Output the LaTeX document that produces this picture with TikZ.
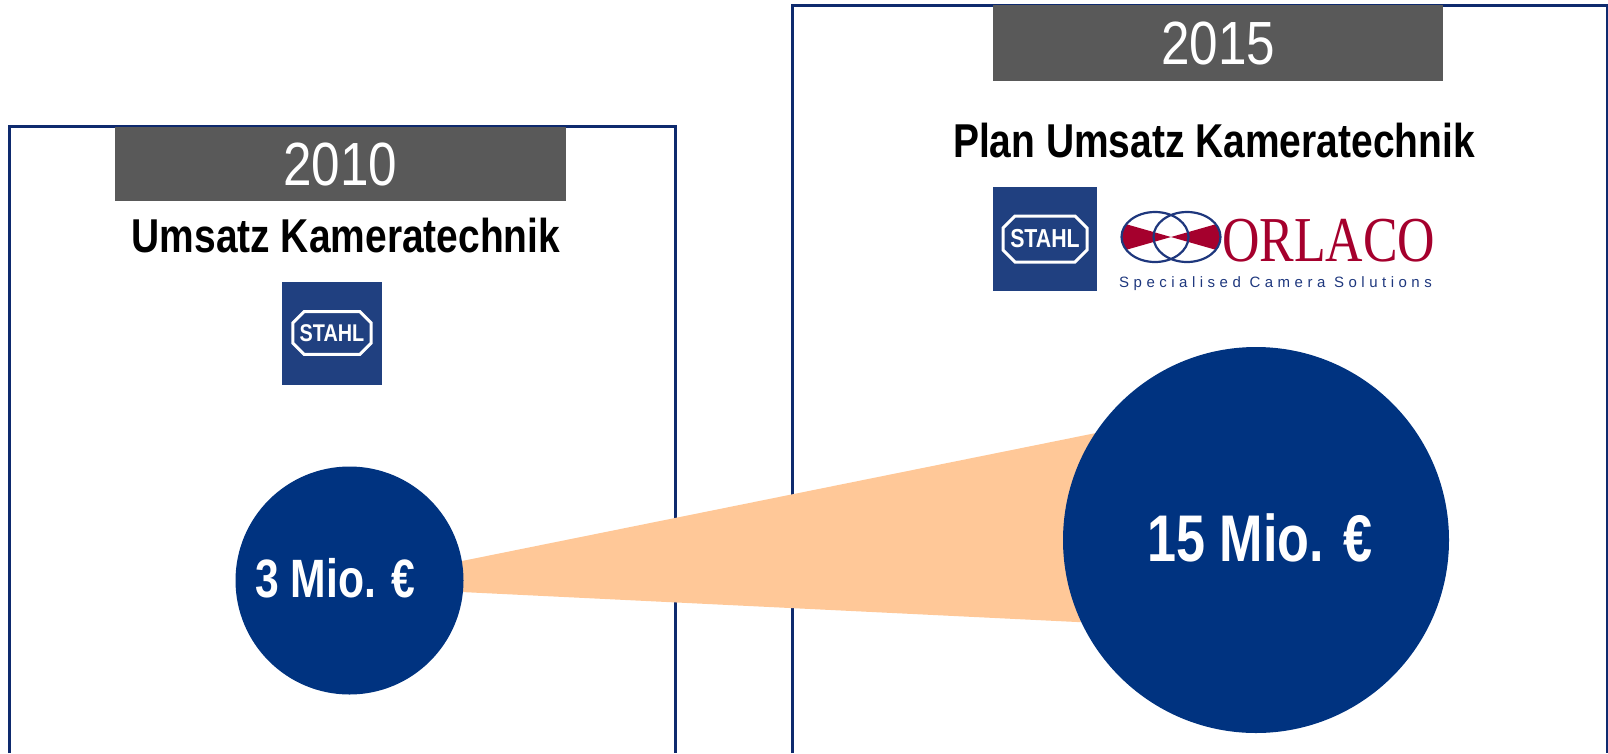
\documentclass[tikz,border=0pt]{standalone}
\usepackage{fontspec}
\setmainfont{Liberation Sans}
\newfontfamily\nreg[FakeStretch=0.84]{Liberation Sans}
\newfontfamily\nbold[FakeStretch=0.82]{Liberation Sans Bold}
\newfontfamily\nboldc[FakeStretch=0.79]{Liberation Sans Bold}
\newfontfamily\orlfont[FakeStretch=0.81]{Liberation Serif}
\newfontfamily\tagfont[LetterSpace=30]{Liberation Sans}
\definecolor{boxnavy}{RGB}{14,42,110}
\definecolor{bubblenavy}{RGB}{0,51,128}
\definecolor{bargray}{RGB}{89,89,89}
\definecolor{peach}{RGB}{255,200,152}
\definecolor{stahlblue}{RGB}{32,64,128}
\definecolor{orlred}{RGB}{165,0,45}
\definecolor{orlnavy}{RGB}{30,55,125}
\tikzset{
  boxline/.style={draw=boxnavy, line width=3pt},
  yearbar/.style={fill=bargray, text=white, inner sep=0pt,
    font=\nreg\fontsize{61}{62}\selectfont},
  titletext/.style={anchor=base, inner sep=0pt, text=black,
    font=\nbold\fontsize{47.5}{50}\selectfont},
  bubble/.style={circle, fill=bubblenavy, inner sep=0pt},
  bubbletext/.style={anchor=base, inner sep=0pt, text=white},
  stahlsq/.style={fill=stahlblue, inner sep=0pt},
  stahlmark/.pic={
    \draw[white, line width=3pt] (-30,-23) -- (30,-23) -- (42,-11) -- (42,11)
      -- (30,23) -- (-30,23) -- (-42,11) -- (-42,-11) -- cycle;
    \node[text=white, inner sep=0pt, transform shape,
      font=\nbold\fontsize{26}{26}\selectfont] (-txt) at (0,0) {STAHL};
  },
}
\begin{document}
\begin{tikzpicture}[x=1pt,y=-1pt]
\useasboundingbox (0,0) rectangle (1608,753);

% frames
\draw[boxline] (9,753) |- (675,126) -- (675,753);
\draw[boxline] (792,753) |- (1607,5) -- (1607,753);

% year bars
\node[yearbar, minimum width=451, minimum height=74] (y2010) at (340.5,164) {2010};
\node[yearbar, minimum width=450, minimum height=76] (y2015) at (1218,43) {2015};

% titles
\node[titletext] (t2010) at (346,252) {Umsatz Kameratechnik};
\node[titletext] (t2015) at (1214,157) {Plan Umsatz Kameratechnik};

% STAHL logos
\node[stahlsq, minimum width=100, minimum height=103] (stahlL) at (332,333) {};
\pic (sL) [scale=0.93] at (stahlL.center) {stahlmark};
\node[stahlsq, minimum width=104, minimum height=104] (stahlR) at (1045,239) {};
\pic (sR) at (stahlR.center) {stahlmark};

% ORLACO logo
\begin{scope}
  \clip (1155,237) ellipse [x radius=33.5, y radius=25];
  \fill[orlred] (1171,237) -- (1108,219) -- (1108,255) -- cycle;
\end{scope}
\begin{scope}
  \clip (1187,237) ellipse [x radius=33.5, y radius=25];
  \fill[orlred] (1171,237) -- (1234,219) -- (1234,255) -- cycle;
\end{scope}
\draw[orlnavy, line width=2.2pt] (1155,237) ellipse [x radius=33.5, y radius=25];
\draw[orlnavy, line width=2.2pt] (1187,237) ellipse [x radius=33.5, y radius=25];
\node[anchor=base west, inner sep=0pt, text=orlred,
  font=\orlfont\fontsize{64}{64}\selectfont] (orlaco) at (1222,261) {ORLACO};
\node[anchor=base west, inner sep=0pt, text=orlnavy,
  font=\tagfont\fontsize{15}{15}\selectfont] (tagline) at (1119,287) {Specialised Camera Solutions};

% band between bubbles
\coordinate (bandTL) at (400,573.5);
\coordinate (bandBL) at (400,589);
\coordinate (bandTR) at (1200,412);
\coordinate (bandBR) at (1200,628);
\fill[peach] (bandTL) -- (bandTR) -- (bandBR) -- (bandBL) -- cycle;

% bubbles
\node[bubble, minimum size=228] (c2010) at (349.5,580.5) {};
\node[bubble, minimum size=386] (c2015) at (1256,540) {};
\node[bubbletext, font=\nboldc\fontsize{54}{54}\selectfont] (v2010) at (335.5,597) {3 Mio. €};
\node[bubbletext, font=\nboldc\fontsize{66}{66}\selectfont] (v2015) at (1260,561) {15 Mio. €};
\end{tikzpicture}
\end{document}
